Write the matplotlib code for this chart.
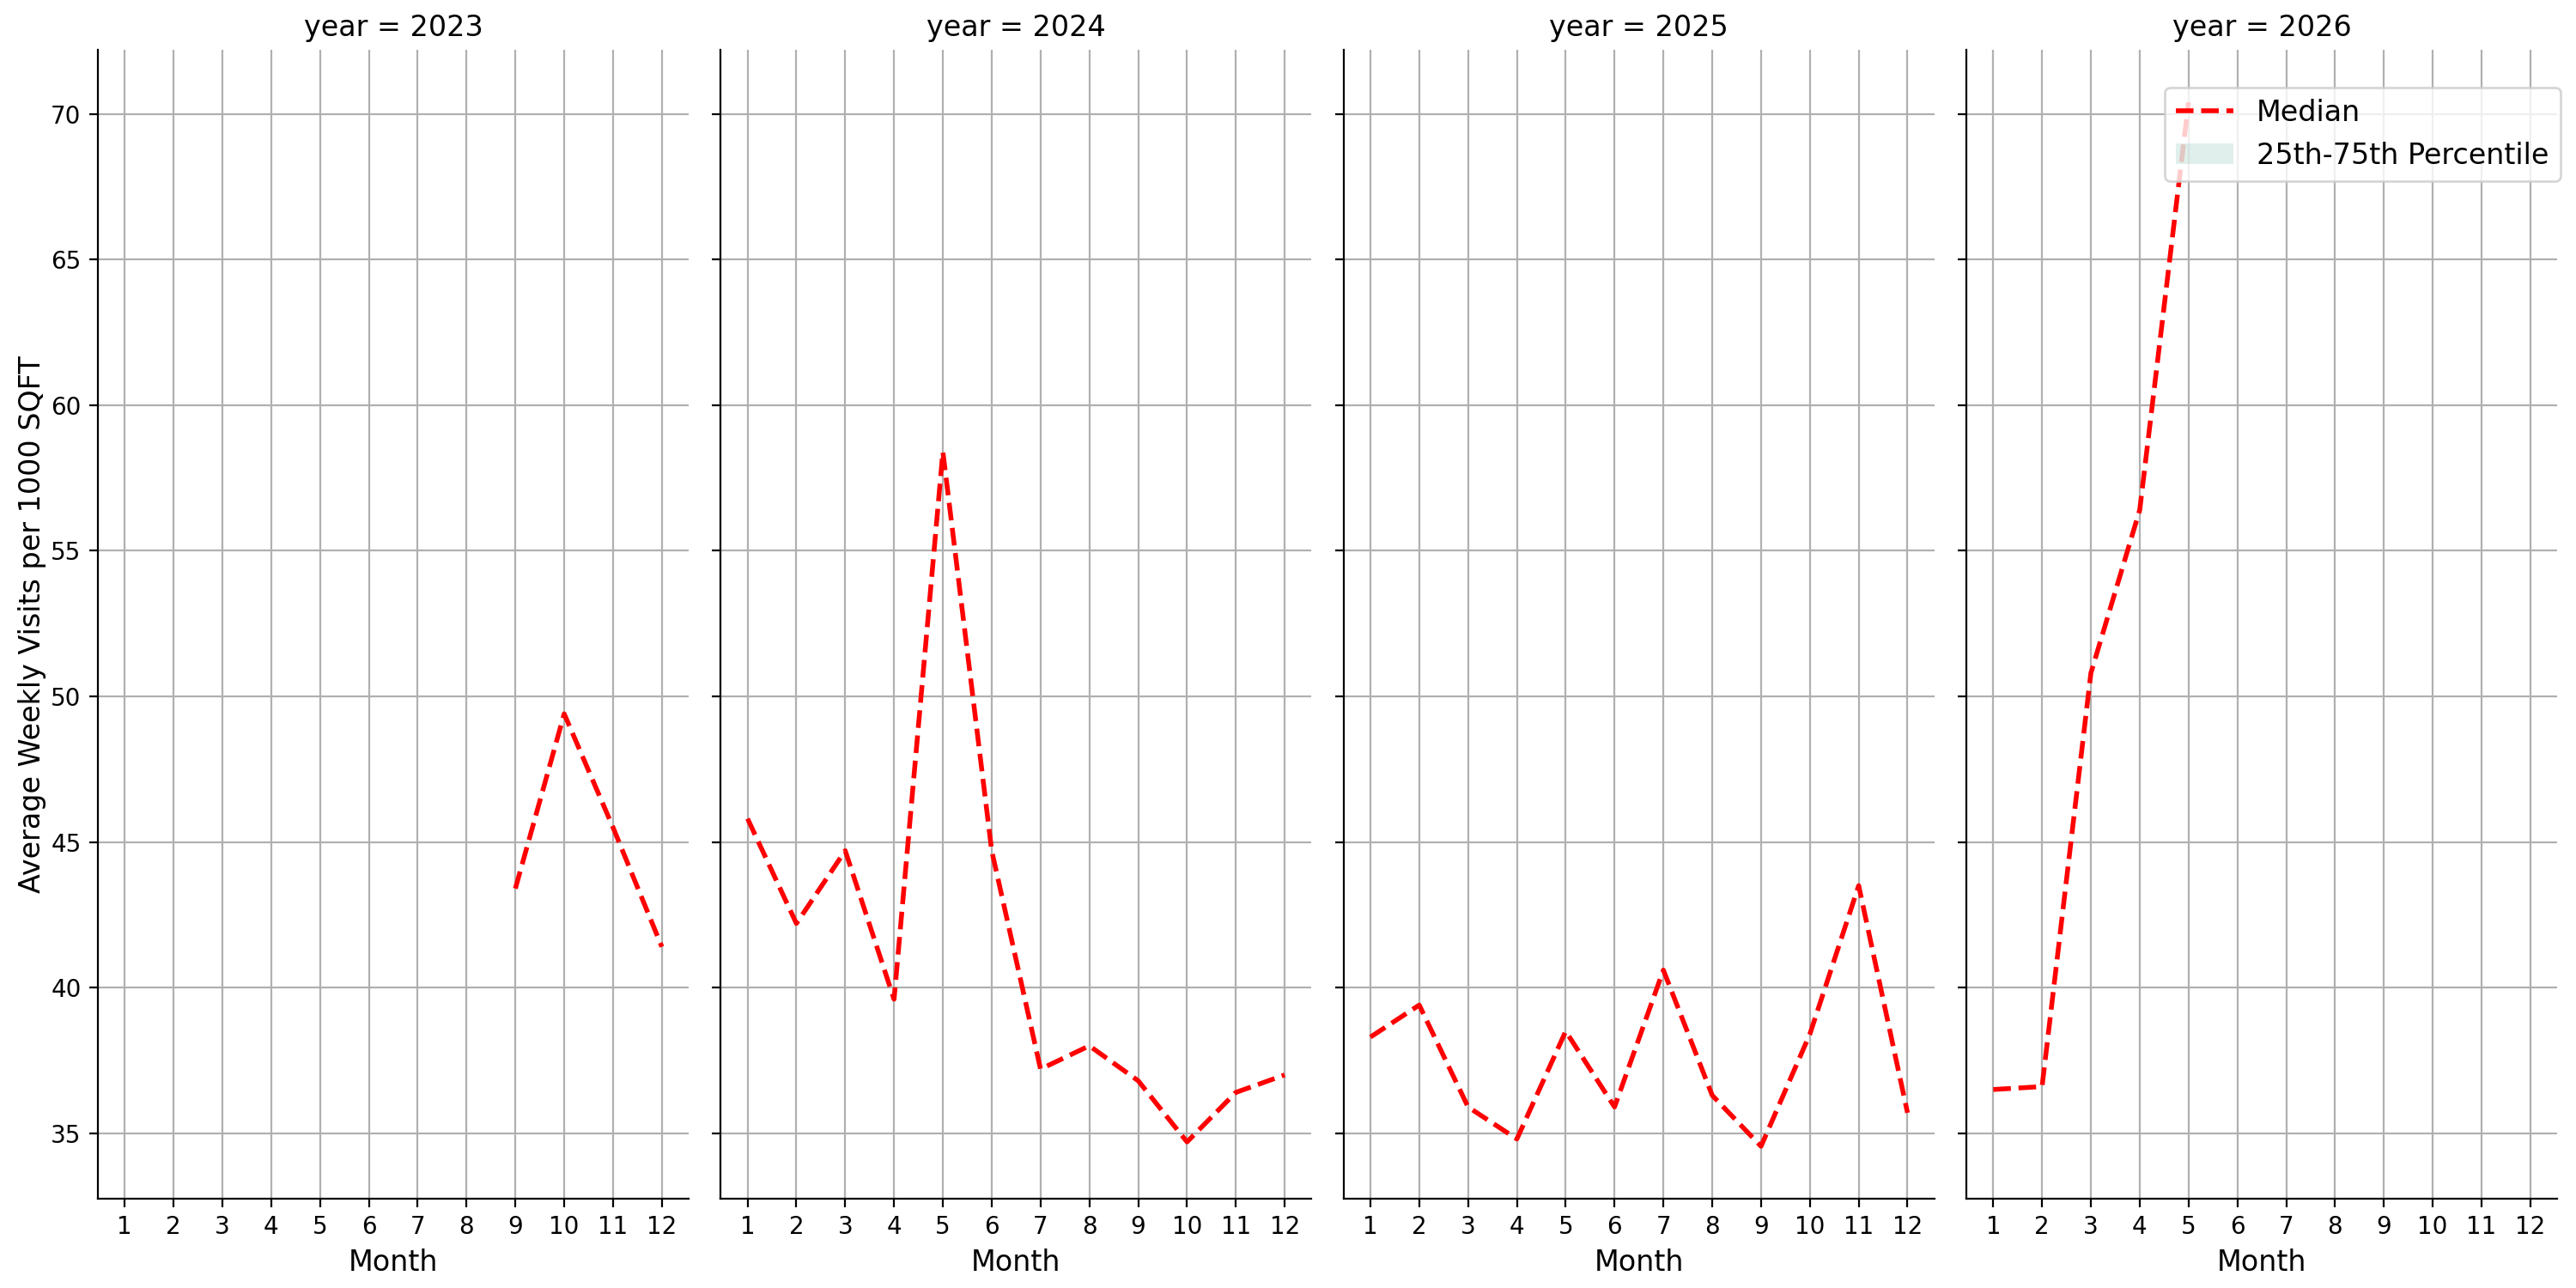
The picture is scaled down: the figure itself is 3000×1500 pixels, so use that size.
import matplotlib
matplotlib.use("Agg")
import matplotlib.pyplot as plt

# 연도별 월 중앙값
years = [2023, 2024, 2025, 2026]
months_2023 = [9, 10, 11, 12]
median_2023 = [43.4, 49.4, 45.5, 41.4]
months_2024 = [1, 2, 3, 4, 5, 6, 7, 8, 9, 10, 11, 12]
median_2024 = [45.8, 42.2, 44.7, 39.6, 58.4, 44.7, 37.2, 38.0, 36.8, 34.7, 36.4, 37.0]
months_2025 = [1, 2, 3, 4, 5, 6, 7, 8, 9, 10, 11, 12]
median_2025 = [38.3, 39.4, 35.9, 34.8, 38.5, 35.9, 40.6, 36.3, 34.55, 38.4, 43.5, 35.7]
months_2026 = [1, 2, 3, 4, 5]
median_2026 = [36.5, 36.6, 50.8, 56.4, 70.4]

month_ticks = list(range(1, 13))

series = {
    2023: (months_2023, median_2023),
    2024: (months_2024, median_2024),
    2025: (months_2025, median_2025),
    2026: (months_2026, median_2026),
}

fig, axes = plt.subplots(1, 4, figsize=(15, 7.5), dpi=200, sharex=True, sharey=True)
fig.subplots_adjust(left=0.038, right=0.9927, bottom=0.0695, top=0.9611, wspace=0.0542)

for ax, year in zip(axes, years):
    months, median = series[year]
    # 중앙값 선
    ax.plot(months, median, color="red", linestyle="--", linewidth=2, label="Median")
    # 25~75 백분위 구간 (폭이 0이라 보이지 않음)
    ax.fill_between(months, median, median, color="#69b3a2", alpha=0.2,
                    linewidth=0, label="25th-75th Percentile")

    ax.set_title(f"year = {year}", fontsize=12)
    ax.set_xlabel("Month", fontsize=12)
    ax.set_xticks(month_ticks)
    ax.tick_params(labelsize=10)
    ax.grid(True)
    ax.spines["top"].set_visible(False)
    ax.spines["right"].set_visible(False)

axes[0].set_ylabel("Average Weekly Visits per 1000 SQFT", fontsize=12, labelpad=2)

axes[-1].legend(loc="upper right", bbox_to_anchor=(1.005, 0.9675),
                borderaxespad=0, fontsize=12)

fig.savefig("out.png", dpi=200)
